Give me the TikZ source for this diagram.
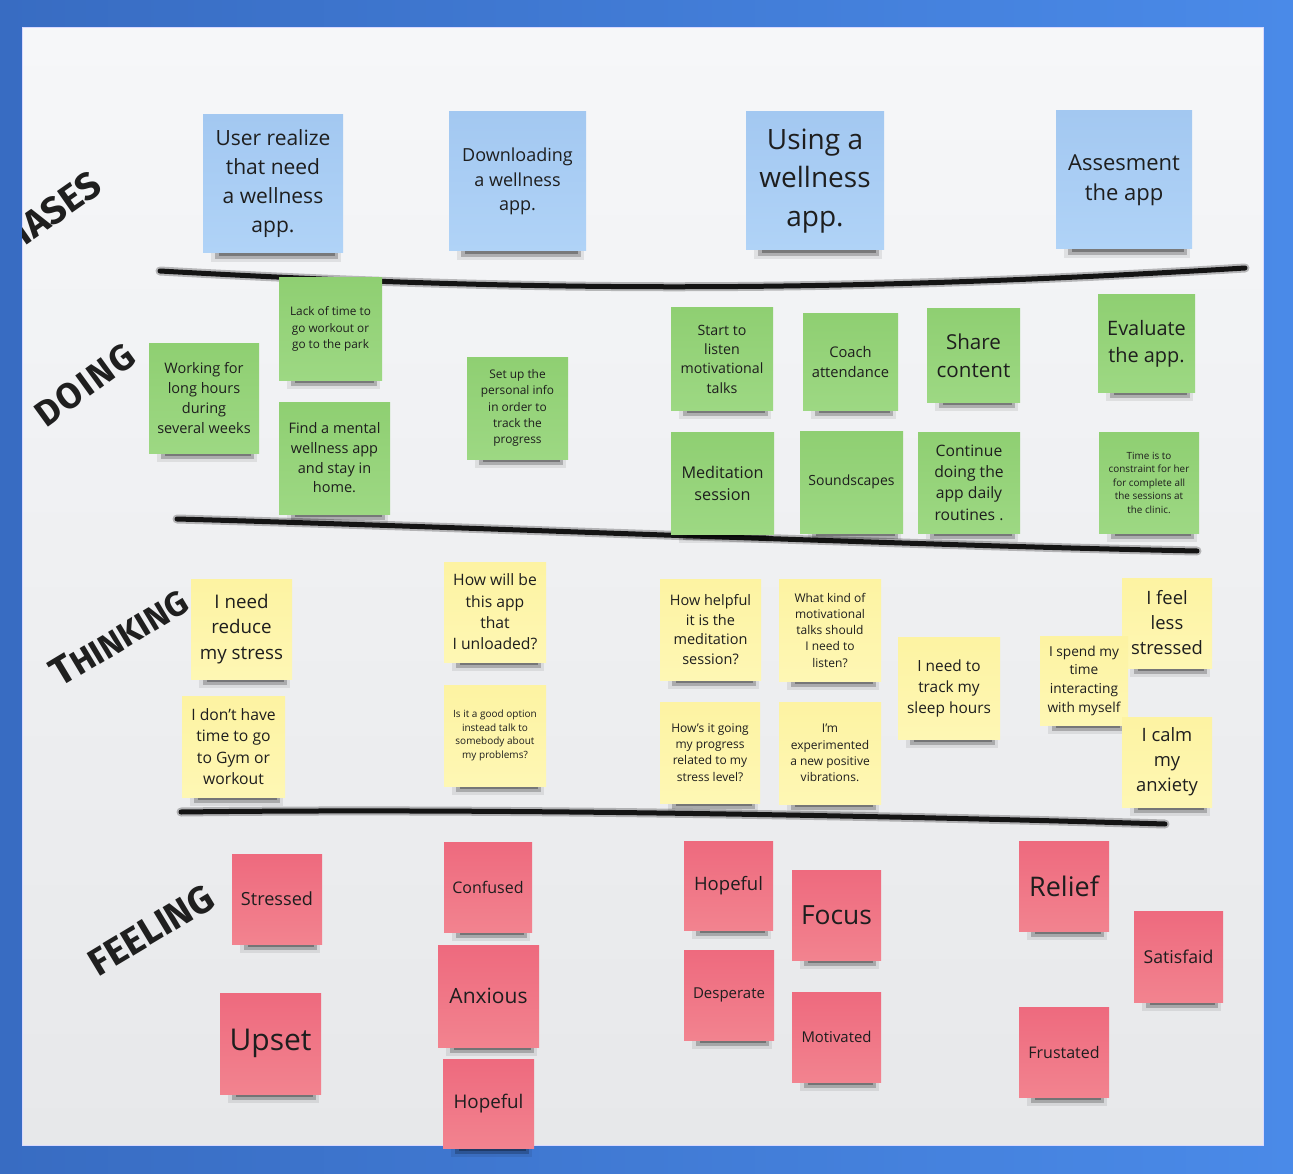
\documentclass[tikz,border=0pt]{standalone}
\usepackage{fontspec}
\setmainfont{Open Sans}
\newfontfamily\hand{Fira Sans}
\usetikzlibrary{calc}
\definecolor{bgleft}{HTML}{386CC2}
\definecolor{bgright}{HTML}{4A8AE8}
\definecolor{boardtop}{HTML}{F6F7F9}
\definecolor{boardbot}{HTML}{E7E8EA}
\definecolor{bluetop}{HTML}{A3C8F1}
\definecolor{bluebot}{HTML}{B0D3F7}
\definecolor{greentop}{HTML}{8FCF72}
\definecolor{greenbot}{HTML}{9DD883}
\definecolor{yeltop}{HTML}{FDF3A2}
\definecolor{yelbot}{HTML}{FEF7B4}
\definecolor{pinktop}{HTML}{EE6A7E}
\definecolor{pinkbot}{HTML}{F2838F}
\definecolor{notetext}{HTML}{1E1E1E}
\tikzset{
  note/.style={draw=none, inner sep=1pt, align=center, text=notetext},
  phase/.style={note, top color=bluetop, bottom color=bluebot},
  doing/.style={note, top color=greentop, bottom color=greenbot},
  think/.style={note, top color=yeltop, bottom color=yelbot},
  feel/.style={note, top color=pinktop, bottom color=pinkbot},
  shadowA/.style={fill=black, opacity=0.08},
  shadowB/.style={fill=black, opacity=0.22},
  shadowC/.style={fill=black, opacity=0.30},
  marker/.style={line width=5pt, line cap=round, black!92},
  markerblur/.style={line width=9pt, line cap=round, black, opacity=0.25},
  handlabel/.style={font=\hand\bfseries, text=black!88, inner sep=0pt},
}
\newcommand\sticky[9]{%
  \fill[shadowA] (#3+8,#6-2) rectangle (#5-2,#6+9);
  \fill[shadowB] (#3+12,#6-2) rectangle (#5-5,#6+6);
  \fill[shadowC] (#3+16,#6-2) rectangle (#5-8,#6+3);
  \node[#2, minimum width={(#5-#3)*1pt}, minimum height={(#6-#4)*1pt},
        font=\fontsize{#7}{#8}\selectfont] (#1) at ({(#3+#5)/2},{(#4+#6)/2}) {#9};
}
\begin{document}
\begin{tikzpicture}[x=1pt,y=-1pt]
\useasboundingbox (0,0) rectangle (1293,1174);
% background and board
\shade[left color=bgleft, right color=bgright] (0,0) rectangle (1293,1174);
\shade[top color=boardtop, bottom color=boardbot, draw=white!85!blue, line width=1pt]
  (22,28) rectangle (1263,1145);

% handwritten row labels
\begin{scope}
  \clip (22,28) rectangle (1263,1145);
  \node[handlabel, rotate=35, anchor=east, font=\hand\bfseries\fontsize{38}{38}\selectfont] (lphases) at (97,180) {PHASES};
  \node[handlabel, rotate=36, font=\hand\bfseries\fontsize{36}{36}\selectfont] (ldoing) at (85,385) {D\kern2pt O\kern2pt I\kern2pt N\kern2pt G};
  \node[handlabel, rotate=31, font=\hand\bfseries\fontsize{34}{34}\selectfont] (lthinking) at (119,637) {{\fontsize{40}{40}\selectfont T}HINKING};
  \node[handlabel, rotate=31, font=\hand\bfseries\fontsize{38}{38}\selectfont] (lfeeling) at (151,930) {FEELING};
\end{scope}

% marker lines
\draw[markerblur] (160,271) .. controls (500,290) and (800,295) .. (1245,268);
\draw[marker] (160,271) .. controls (500,290) and (800,295) .. (1245,268);
\draw[markerblur] (177,519) .. controls (500,528) and (900,545) .. (1197,551);
\draw[marker] (177,519) .. controls (500,528) and (900,545) .. (1197,551);
\draw[markerblur] (181,812) .. controls (500,808) and (900,816) .. (1165,824);
\draw[marker] (181,812) .. controls (500,808) and (900,816) .. (1165,824);

% phases
\sticky{p1}{phase}{203}{115}{343}{253}{21}{29}{User realize\\that need\\a wellness\\app.}
\sticky{p2}{phase}{449}{112}{586}{251}{18}{24.5}{Downloading\\a wellness\\app.}
\sticky{p3}{phase}{746}{112}{884}{250}{28}{38.5}{Using a\\wellness\\app.}
\sticky{p4}{phase}{1056}{111}{1192}{249}{22}{30}{Assesment\\the app}

% doing
\sticky{d1}{doing}{279}{278}{382}{380}{11.8}{16.3}{Lack of time to\\go workout or\\go to the park}
\sticky{d2}{doing}{149}{343}{259}{453}{14.5}{19.7}{Working for\\long hours\\during\\several weeks}
\sticky{d3}{doing}{279}{402}{390}{514}{14.5}{19.7}{Find a mental\\wellness app\\and stay in\\home.}
\sticky{d4}{doing}{467}{357}{568}{459}{11.9}{16.2}{Set up the\\personal info\\in order to\\track the\\progress}
\sticky{d5}{doing}{671}{308}{773}{410}{14.2}{19.3}{Start to\\listen\\motivational\\talks}
\sticky{d6}{doing}{803}{314}{898}{410}{14.7}{20}{Coach\\attendance}
\sticky{d7}{doing}{927}{309}{1020}{402}{20.6}{28}{Share\\content}
\sticky{d8}{doing}{1098}{295}{1195}{392}{19.9}{27}{Evaluate\\the app.}
\sticky{d9}{doing}{671}{432}{774}{534}{16.2}{22}{Meditation\\session}
\sticky{d10}{doing}{800}{431}{903}{533}{14}{19}{Soundscapes}
\sticky{d11}{doing}{918}{432}{1020}{533}{15.7}{21.3}{Continue\\doing the\\app daily\\routines .}
\sticky{d12}{doing}{1099}{432}{1199}{533}{9.9}{13.5}{Time is to\\constraint for her\\for complete all\\the sessions at\\the clinic.}

% thinking
\sticky{t1}{think}{191}{579}{292}{679}{18.75}{25.5}{I need\\reduce\\my stress}
\sticky{t2}{think}{182}{696}{285}{797}{15.7}{21.3}{I don't have\\time to go\\to Gym or\\workout}
\sticky{t3}{think}{444}{562}{546}{662}{15.7}{21.3}{How will be\\this app\\that\\I unloaded?}
\sticky{t4}{think}{444}{685}{546}{786}{10}{13.7}{Is it a good option\\instead talk to\\somebody about\\my problems?}
\sticky{t5}{think}{660}{579}{761}{680}{14.5}{19.7}{How helpful\\it is the\\meditation\\session?}
\sticky{t6}{think}{779}{579}{881}{681}{12}{16.25}{What kind of\\motivational\\talks should\\I need to\\listen?}
\sticky{t7}{think}{660}{702}{760}{803}{12}{16.3}{How's it going\\my progress\\related to my\\stress level?}
\sticky{t8}{think}{779}{702}{881}{804}{12}{16.3}{I'm\\experimented\\a new positive\\vibrations.}
\sticky{t9}{think}{898}{637}{1000}{739}{15.4}{21}{I need to\\track my\\sleep hours}
\sticky{t11}{think}{1122}{578}{1212}{668}{18.4}{25}{I feel\\less\\stressed}
\sticky{t10}{think}{1040}{636}{1128}{725}{13.7}{18.7}{I spend my\\time\\interacting\\with myself}
\sticky{t12}{think}{1122}{717}{1212}{807}{18.4}{25}{I calm\\my\\anxiety}

% feeling
\sticky{f1}{feel}{232}{854}{322}{944}{18.1}{24}{Stressed}
\sticky{f2}{feel}{220}{993}{321}{1094}{30}{40}{Upset}
\sticky{f3}{feel}{444}{842}{532}{932}{16}{22}{Confused}
\sticky{f4}{feel}{438}{945}{539}{1047}{21}{28}{Anxious}
\sticky{f5}{feel}{443}{1059}{534}{1148}{18.8}{25}{Hopeful}
\sticky{f6}{feel}{684}{841}{773}{930}{18.5}{25}{Hopeful}
\sticky{f7}{feel}{684}{950}{774}{1040}{15}{20}{Desperate}
\sticky{f8}{feel}{792}{870}{881}{960}{26.4}{35}{Focus}
\sticky{f9}{feel}{792}{992}{881}{1082}{14.9}{20}{Motivated}
\sticky{f10}{feel}{1019}{841}{1109}{931}{27}{36}{Relief}
\sticky{f11}{feel}{1134}{911}{1223}{1002}{17.7}{24}{Satisfaid}
\sticky{f12}{feel}{1019}{1007}{1109}{1097}{16}{22}{Frustated}
\end{tikzpicture}
\end{document}
